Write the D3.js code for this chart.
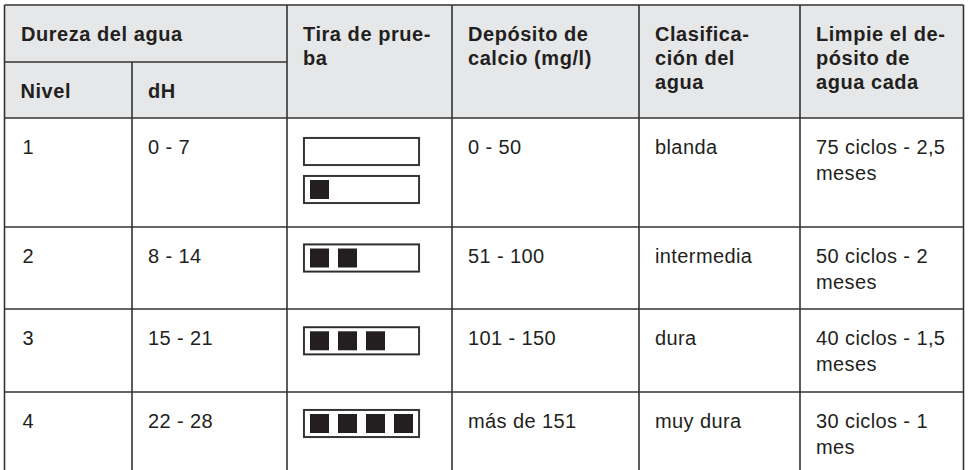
<!DOCTYPE html>
<html>
<head>
<meta charset="utf-8">
<script src="https://cdn.jsdelivr.net/npm/d3@7/dist/d3.min.js"></script>
<style>
  html, body { margin: 0; padding: 0; background: #ffffff; }
  svg { display: block; }
  text { font-family: "Liberation Sans", Arial, Helvetica, sans-serif; fill: #231f20; }
</style>
</head>
<body>
<svg id="chart" width="970" height="470"></svg>
<script>
// ---------------- DATA ----------------
const groupHeader = ["Dureza del agua"];
const subHeaders = ["Nivel", "dH"];
const columnHeaders = [
  ["Tira de prue-", "ba"],
  ["Depósito de", "calcio (mg/l)"],
  ["Clasifica-", "ción del", "agua"],
  ["Limpie el de-", "pósito de", "agua cada"]
];
const levels = ["1", "2", "3", "4"];
const dhRanges = ["0 - 7", "8 - 14", "15 - 21", "22 - 28"];
const stripSquares = [[0, 1], [2], [3], [4]];
const calcium = ["0 - 50", "51 - 100", "101 - 150", "más de 151"];
const classification = ["blanda", "intermedia", "dura", "muy dura"];
const cleaning = [
  ["75 ciclos - 2,5", "meses"],
  ["50 ciclos - 2", "meses"],
  ["40 ciclos - 1,5", "meses"],
  ["30 ciclos - 1", "mes"]
];

// ---------------- LAYOUT ----------------
const svg = d3.select("#chart");
const colEdges = [4.5, 132, 287, 452, 639, 800, 963.5];
const colIdx = d3.range(colEdges.length);
const xCol = d3.scaleOrdinal().domain(colIdx).range(colEdges);
const rowEdges = [118, 227, 309, 392, 470];
const yRow = d3.scaleOrdinal().domain(d3.range(rowEdges.length)).range(rowEdges);
const headerTop = 5, headerMid = 62, headerBottom = 118;
const pad = 16, baseOff = 35.5, headLH = 24, bodyLH = 26;
const lineColor = "#333333";
const headFill = "#e6e7e8";

// header background
svg.append("rect").attr("x", xCol(0)).attr("y", headerTop)
  .attr("width", xCol(6) - xCol(0)).attr("height", headerBottom - headerTop)
  .attr("fill", headFill);

// body background
svg.append("rect").attr("x", xCol(0)).attr("y", headerBottom)
  .attr("width", xCol(6) - xCol(0)).attr("height", 470 - headerBottom)
  .attr("fill", "#ffffff");

const lines = svg.append("g").attr("stroke", lineColor).attr("stroke-width", 1.6).attr("fill", "none");
// horizontal lines
lines.append("line").attr("x1", xCol(0)).attr("x2", xCol(6)).attr("y1", headerTop).attr("y2", headerTop);
lines.append("line").attr("x1", xCol(0)).attr("x2", xCol(2)).attr("y1", headerMid).attr("y2", headerMid);
[0, 1, 2, 3].forEach(r => {
  lines.append("line").attr("x1", xCol(0)).attr("x2", xCol(6)).attr("y1", yRow(r)).attr("y2", yRow(r));
});
// vertical lines
colIdx.forEach(c => {
  const y1 = (c === 1) ? headerMid : headerTop;
  lines.append("line").attr("x1", xCol(c)).attr("x2", xCol(c)).attr("y1", y1).attr("y2", 470);
});

// text helper
function multiline(g, x, yTop, arr, lh, bold) {
  const t = g.append("text")
    .attr("font-size", 20)
    .attr("font-weight", bold ? "bold" : "normal")
    .attr("letter-spacing", bold ? 0.55 : 0.4);
  arr.forEach((s, i) => {
    t.append("tspan").attr("x", x).attr("y", yTop + baseOff + i * lh).text(s);
  });
  return t;
}

const tg = svg.append("g");
// headers
multiline(tg, xCol(0) + pad + 0.5, headerTop, groupHeader, headLH, true);
subHeaders.forEach((s, i) => multiline(tg, xCol(i) + pad, headerMid, [s], headLH, true));
columnHeaders.forEach((arr, i) => multiline(tg, xCol(i + 2) + pad, headerTop, arr, headLH, true));

// body cells
levels.forEach((lv, r) => {
  const top = yRow(r);
  multiline(tg, xCol(0) + pad + 2, top, [lv], bodyLH, false);
  multiline(tg, xCol(1) + pad, top, [dhRanges[r]], bodyLH, false);
  multiline(tg, xCol(3) + pad, top, [calcium[r]], bodyLH, false);
  multiline(tg, xCol(4) + pad, top, [classification[r]], bodyLH, false);
  multiline(tg, xCol(5) + pad, top, cleaning[r], bodyLH, false);
});

// test strips
const stripW = 115, stripH = 27, stripGap = 11;
const sqSize = 19;
const xSq = d3.scaleLinear().domain([0, 1]).range([6, 34]); // square index -> offset in strip
const stripTopOff = [20, 17.5, 18.3, 18];
const sg = svg.append("g");
stripSquares.forEach((strips, r) => {
  strips.forEach((n, k) => {
    const sx = xCol(2) + 17;
    const sy = yRow(r) + stripTopOff[r] + k * (stripH + stripGap);
    sg.append("rect").attr("x", sx - 0.6).attr("y", sy - 0.6)
      .attr("width", stripW + 1.2).attr("height", stripH + 1.2)
      .attr("fill", "none").attr("stroke", "#9a9a9a").attr("stroke-width", 1);
    sg.append("rect").attr("x", sx).attr("y", sy)
      .attr("width", stripW).attr("height", stripH)
      .attr("fill", "#ffffff").attr("stroke", "#2b2b2b").attr("stroke-width", 1.8);
    d3.range(n).forEach(j => {
      sg.append("rect").attr("x", sx + xSq(j)).attr("y", sy + 4)
        .attr("width", sqSize).attr("height", sqSize).attr("fill", "#231f20");
    });
  });
});
</script>
</body>
</html>
